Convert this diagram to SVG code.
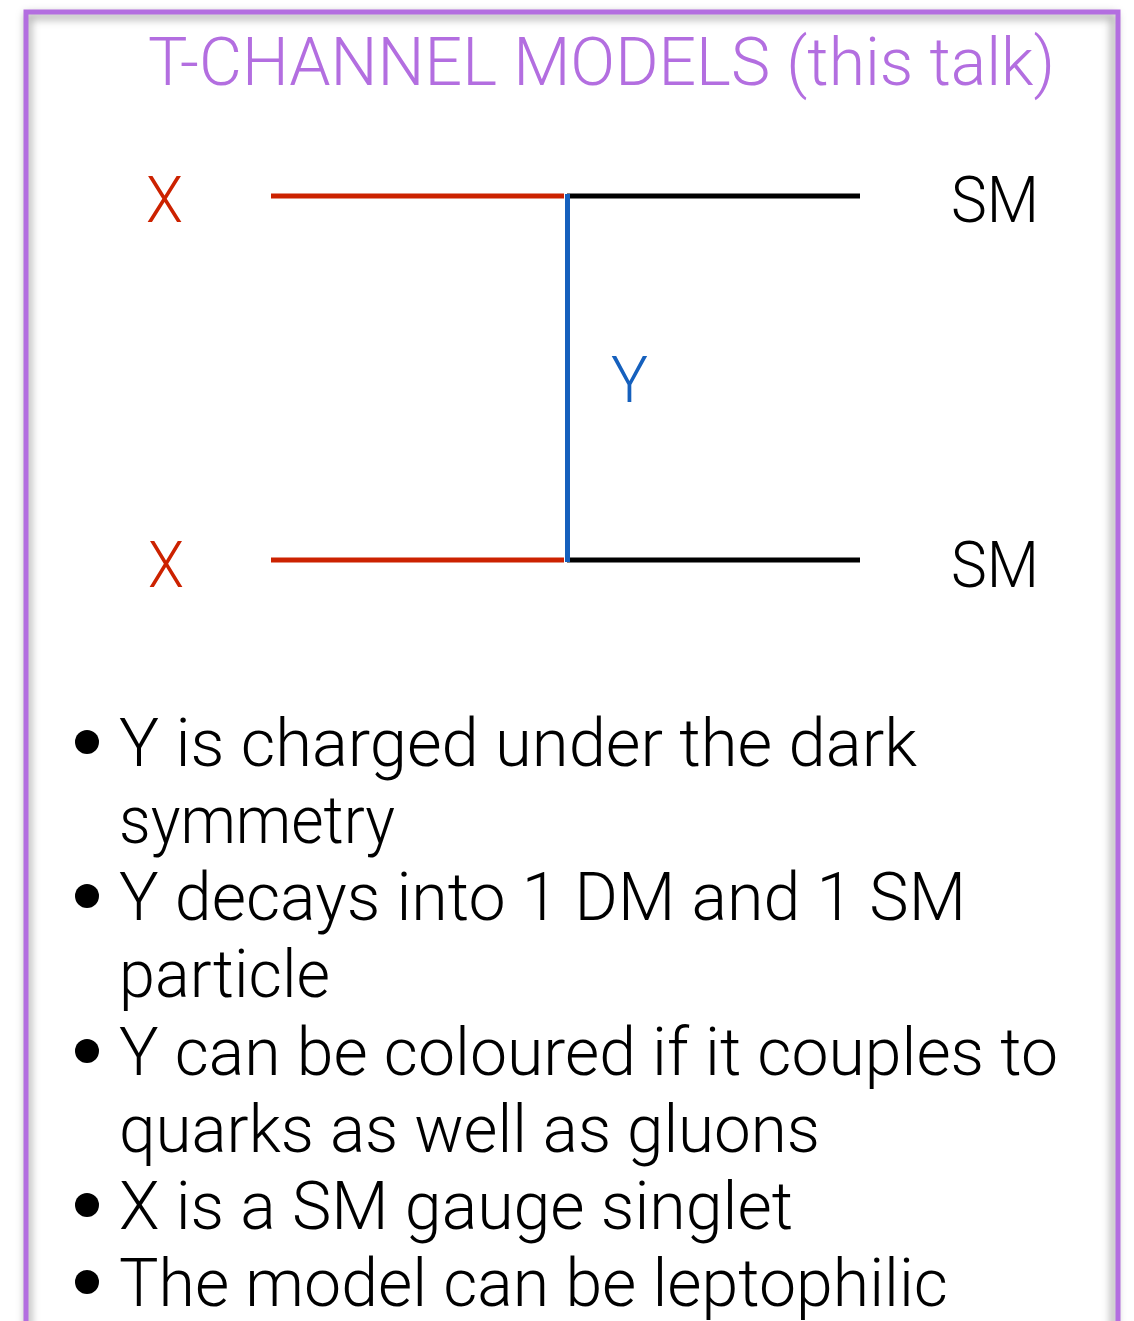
<svg xmlns="http://www.w3.org/2000/svg" width="1134" height="1321" viewBox="0 0 1134 1321">
<defs>
<style>
.t{font-family:Roboto,"Liberation Sans",sans-serif;font-weight:300}
.title{fill:#b36ee0;font-size:66px}
.lbl{font-size:65px}
.red{fill:#cc2200}
.blk{fill:#000}
.blu{fill:#1560bd}
.bul{font-size:66px;fill:#000}
.dot{fill:#000}
</style>
<filter id="sh" x="-5%" y="-5%" width="110%" height="110%"><feGaussianBlur stdDeviation="4"/></filter>
</defs>
<rect width="1134" height="1321" fill="#fff"/>
<g id="frame">
<rect x="28" y="16" width="1086" height="1330" fill="none" stroke="#000" stroke-opacity="0.35" stroke-width="6" filter="url(#sh)"/>
<rect x="26" y="12" width="1092" height="1340" fill="none" stroke="#b36ee0" stroke-width="5"/>
</g>
<g id="title"><text class="t title" x="148" y="85" textLength="907" lengthAdjust="spacingAndGlyphs">T-CHANNEL MODELS (this talk)</text></g>
<g id="connectors" stroke-width="5" fill="none">
<line x1="271" y1="196" x2="564" y2="196" stroke="#cc2200"/>
<line x1="567" y1="196" x2="860" y2="196" stroke="#000"/>
<line x1="271" y1="560" x2="564" y2="560" stroke="#cc2200"/>
<line x1="567" y1="560" x2="860" y2="560" stroke="#000"/>
<line x1="567.5" y1="194" x2="567.5" y2="562" stroke="#1560bd"/>
</g>
<g id="node-x1"><text class="t lbl red" x="146" y="222" textLength="37" lengthAdjust="spacingAndGlyphs">X</text></g>
<g id="node-x2"><text class="t lbl red" x="148" y="587" textLength="36" lengthAdjust="spacingAndGlyphs">X</text></g>
<g id="node-sm1"><text class="t lbl blk" x="951" y="222" textLength="88" lengthAdjust="spacingAndGlyphs">SM</text></g>
<g id="node-sm2"><text class="t lbl blk" x="951" y="587" textLength="88" lengthAdjust="spacingAndGlyphs">SM</text></g>
<g id="label-y"><text class="t lbl blu" x="611" y="402" textLength="37" lengthAdjust="spacingAndGlyphs">Y</text></g>
<g id="bullets">
<circle class="dot" cx="87" cy="742" r="12"/>
<circle class="dot" cx="87" cy="896" r="12"/>
<circle class="dot" cx="87" cy="1051" r="12"/>
<circle class="dot" cx="87" cy="1205" r="12"/>
<circle class="dot" cx="87" cy="1282" r="12"/>
<text class="t bul" x="119" y="766" textLength="798" lengthAdjust="spacingAndGlyphs">Y is charged under the dark</text>
<text class="t bul" x="119" y="843" textLength="276" lengthAdjust="spacingAndGlyphs">symmetry</text>
<text class="t bul" x="119" y="920" textLength="847" lengthAdjust="spacingAndGlyphs">Y decays into 1 DM and 1 SM</text>
<text class="t bul" x="119" y="997" textLength="211" lengthAdjust="spacingAndGlyphs">particle</text>
<text class="t bul" x="119" y="1075" textLength="939" lengthAdjust="spacingAndGlyphs">Y can be coloured if it couples to</text>
<text class="t bul" x="119" y="1152" textLength="701" lengthAdjust="spacingAndGlyphs">quarks as well as gluons</text>
<text class="t bul" x="119" y="1229" textLength="674" lengthAdjust="spacingAndGlyphs">X is a SM gauge singlet</text>
<text class="t bul" x="119" y="1306" textLength="829" lengthAdjust="spacingAndGlyphs">The model can be leptophilic</text>
</g>
</svg>
